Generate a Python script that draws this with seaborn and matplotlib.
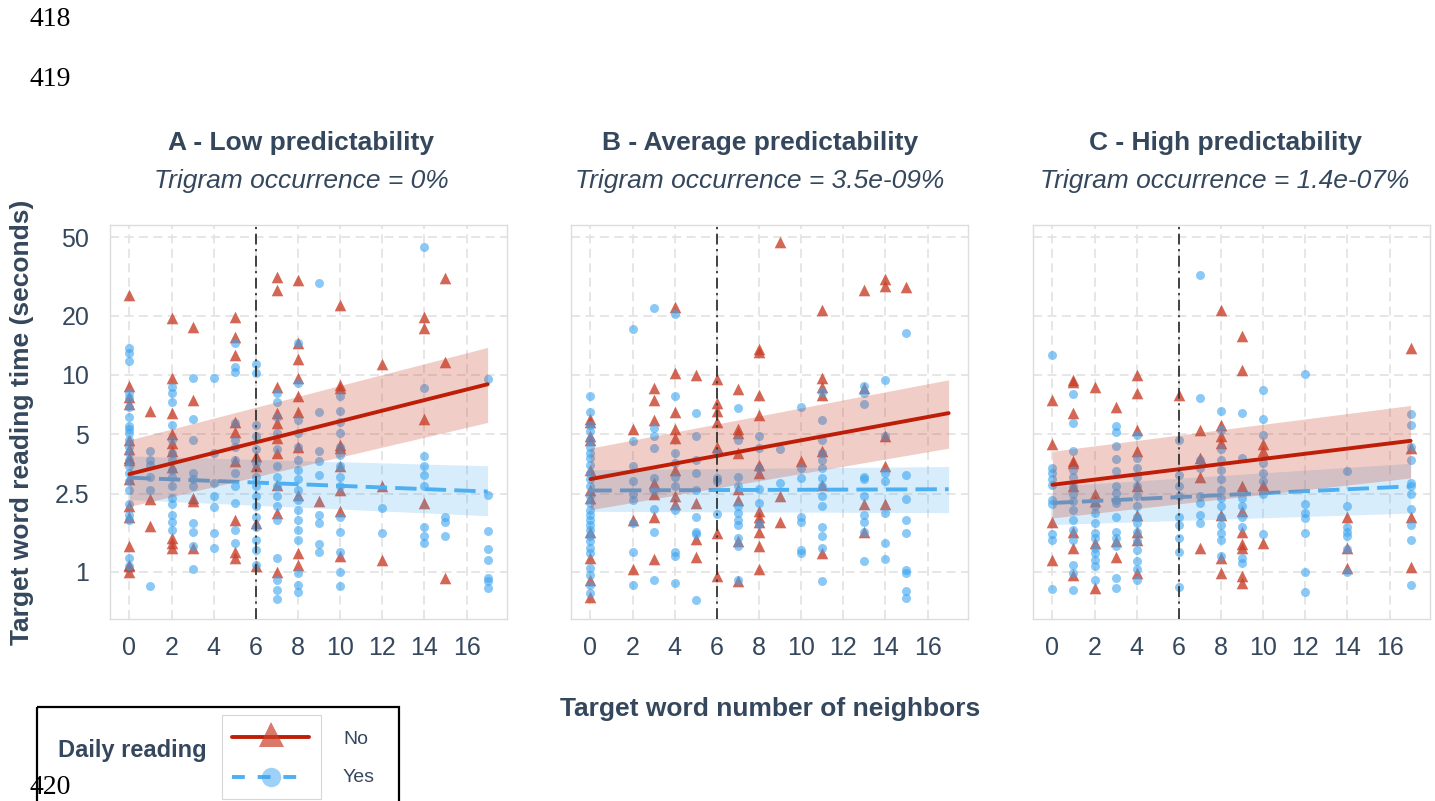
import matplotlib
matplotlib.use("Agg")
import matplotlib.pyplot as plt
import seaborn as sns
import pandas as pd
from matplotlib.patches import Rectangle
from matplotlib.ticker import NullLocator

# ---------------- data ----------------
PANEL_TITLES = ["A - Low predictability", "B - Average predictability", "C - High predictability"]
SUBTITLES = ["Trigram occurrence = 0%", "Trigram occurrence = 3.5e-09%", "Trigram occurrence = 1.4e-07%"]
X_TICKS = [0, 2, 4, 6, 8, 10, 12, 14, 16]
Y_TICKS = [1, 2.5, 5, 10, 20, 50]
Y_TICK_LABELS = ["1", "2.5", "5", "10", "20", "50"]
THRESHOLD = 6
GROUPS = ["No", "Yes"]

A_NO = {
    0: [25.4, 8.8, 7.7, 7.1, 4.7, 4.2, 3.8, 3.7, 2.95, 2.15, 1.9, 1.36, 1.09, 1.07, 1.0],
    1: [6.6, 2.35, 1.72],
    2: [19.4, 9.6, 6.4, 5.0, 4.5, 4.1, 3.4, 1.49, 1.4, 1.32],
    3: [17.5, 7.5, 2.37, 2.28, 1.32],
    5: [19.7, 15.5, 12.6, 5.8, 5.15, 3.64, 1.83, 1.27, 1.18],
    6: [3.86, 3.43, 1.77, 1.07],
    7: [31.5, 26.9, 8.7, 6.4, 5.7, 4.77, 4.0, 2.77, 2.0, 1.0],
    8: [30.3, 14.5, 12.0, 9.7, 7.8, 6.45, 4.33, 2.47, 1.25, 1.09],
    9: [2.3],
    10: [22.6, 8.9, 8.55, 4.4, 4.25, 3.43, 2.6, 2.03, 1.2],
    12: [11.4, 2.72, 1.15],
    14: [19.7, 17.4, 6.0, 2.24],
    15: [31.0, 11.7, 0.93],
}
A_YES = {
    0: [13.7, 12.9, 11.8, 8.1, 7.6, 6.9, 6.15, 5.5, 5.3, 5.1, 4.7, 4.3, 4.0, 3.7, 3.43, 3.17, 2.88, 2.6, 2.2, 1.95, 1.84, 1.18, 1.07],
    1: [4.1, 3.7, 3.5, 3.05, 2.6, 0.85],
    2: [8.7, 8.1, 7.3, 5.6, 4.7, 4.0, 3.7, 3.3, 3.05, 2.72, 2.37, 2.2, 1.95, 1.8, 1.64],
    3: [9.7, 6.0, 4.7, 3.17, 2.95, 2.72, 1.77, 1.6, 1.35, 1.03],
    4: [9.7, 4.0, 2.83, 2.42, 2.13, 1.58, 1.32],
    5: [14.6, 11.0, 10.4, 5.7, 4.7, 4.3, 3.7, 3.17, 2.72, 2.24, 1.64, 1.4],
    6: [11.4, 10.2, 5.6, 4.9, 4.2, 3.56, 3.05, 2.72, 2.42, 2.15, 1.91, 1.7, 1.46, 1.3, 1.09],
    7: [8.1, 7.3, 6.15, 5.1, 4.2, 3.43, 3.05, 2.72, 2.42, 2.15, 1.84, 1.18, 0.91, 0.81, 0.73],
    8: [14.5, 9.1, 5.9, 5.1, 4.3, 3.7, 3.3, 2.95, 2.6, 2.33, 2.07, 1.84, 1.64, 1.46, 0.99, 0.86, 0.79],
    9: [29.2, 6.5, 4.1, 3.64, 3.1, 1.95, 1.77, 1.38, 1.27],
    10: [7.8, 6.6, 5.8, 5.1, 4.3, 3.94, 3.43, 3.05, 2.72, 1.91, 1.6, 1.27, 1.0, 0.85],
    12: [2.11, 1.58],
    14: [44.6, 8.55, 3.86, 3.43, 3.1, 2.72, 1.7, 1.52, 1.4],
    15: [1.91, 1.8, 1.53],
    17: [9.5, 2.47, 1.62, 1.31, 1.15, 0.93, 0.9, 0.83],
}
B_NO = {
    0: [6.0, 5.8, 4.9, 4.7, 3.3, 2.6, 2.37, 1.6, 1.18, 0.91, 0.75],
    2: [5.3, 1.84, 1.04],
    3: [8.55, 7.5, 5.9, 2.83, 2.5, 1.89, 1.16],
    4: [22.2, 10.2, 6.5, 5.3, 4.77, 3.3, 2.42, 2.2],
    5: [10.0, 2.24, 1.47, 1.19],
    6: [9.5, 7.2, 6.6, 5.8, 4.3, 1.58, 0.95],
    7: [8.45, 5.3, 5.1, 4.0, 2.65, 2.33, 1.43, 0.9],
    8: [13.6, 13.1, 7.9, 6.25, 3.5, 3.17, 2.03, 1.91, 1.8, 1.6, 1.36, 1.04],
    9: [47.5, 2.42, 1.8],
    10: [3.64],
    11: [21.3, 9.6, 8.7, 7.9, 4.1, 2.77, 1.25],
    13: [26.9, 8.55, 2.22, 1.6],
    14: [30.8, 28.2, 4.9, 3.43, 2.2],
    15: [28.0],
}
B_YES = {
    0: [7.8, 6.5, 5.6, 5.2, 4.7, 4.33, 4.0, 3.78, 3.5, 3.17, 2.95, 2.72, 2.42, 2.24, 2.07, 1.95, 1.84, 1.73, 1.64, 1.52, 1.43, 1.32, 1.25, 1.05, 0.97, 0.86, 0.78],
    2: [17.2, 4.6, 3.43, 2.88, 2.5, 2.33, 1.77, 1.27, 0.86],
    3: [21.8, 5.4, 4.9, 4.25, 3.0, 2.6, 2.08, 1.6, 0.91],
    4: [20.5, 7.8, 4.0, 3.56, 3.05, 2.72, 2.07, 1.27, 1.2, 0.88],
    5: [6.4, 4.9, 3.7, 3.17, 2.6, 1.91, 1.6, 1.55, 0.72],
    6: [4.0, 3.0, 2.88, 1.98],
    7: [6.8, 4.7, 3.05, 2.72, 2.15, 1.99, 1.84, 1.73, 1.49, 1.35, 0.91],
    8: [4.9, 4.25, 3.37, 2.65, 2.24, 1.76],
    9: [4.2, 2.83],
    10: [6.9, 3.37, 3.0, 1.91, 1.8, 1.3, 1.25],
    11: [8.2, 5.9, 4.7, 4.0, 3.7, 3.37, 3.0, 2.72, 2.42, 2.15, 1.7, 1.52, 1.32, 0.9],
    13: [8.8, 8.1, 7.1, 3.05, 2.97, 2.42, 1.95, 1.8, 1.6, 1.13],
    14: [9.4, 4.9, 3.17, 2.88, 1.99, 1.41, 1.16],
    15: [16.3, 3.1, 2.35, 1.84, 1.57, 1.02, 0.99, 0.8, 0.74],
}
C_NO = {
    0: [7.5, 4.47, 1.8, 1.15],
    1: [9.4, 9.25, 6.4, 3.64, 3.56, 2.72, 1.6, 1.32, 0.97],
    2: [8.65, 2.5, 2.28, 1.4, 0.83],
    3: [6.9, 1.43, 1.19],
    4: [10.0, 8.1, 5.25, 4.1, 2.72, 1.95, 1.6, 1.46, 0.99],
    6: [7.9],
    7: [5.25, 3.78, 3.05, 1.32],
    8: [21.3, 5.6, 4.9, 4.5, 1.95, 1.18, 0.99],
    9: [15.8, 10.6, 2.72, 2.03, 1.6, 1.38, 1.32, 0.95, 0.88],
    10: [4.47, 4.1, 2.77, 1.4],
    14: [1.91, 1.32, 1.05],
    17: [13.7, 4.25, 1.91, 1.06],
}
C_YES = {
    0: [12.6, 3.37, 3.17, 2.95, 2.77, 2.33, 2.2, 1.55, 1.46, 0.82],
    1: [8.0, 5.7, 4.1, 3.3, 3.05, 2.72, 2.5, 2.28, 2.07, 1.84, 1.64, 1.46, 1.09, 0.99, 0.81],
    2: [2.15, 1.99, 1.77, 1.58, 1.49, 1.32, 1.25, 1.15, 1.07, 0.91],
    3: [5.5, 5.15, 4.37, 3.75, 3.27, 2.73, 2.53, 2.33, 2.24, 1.89, 1.6, 1.49, 1.35, 0.93, 0.83],
    4: [4.95, 3.78, 3.37, 3.05, 2.72, 2.42, 2.15, 1.91, 1.77, 1.6, 1.43, 1.3, 1.13, 1.03, 0.91],
    6: [4.7, 3.1, 2.72, 2.42, 1.91, 1.73, 1.49, 1.27, 0.84],
    7: [32.0, 7.6, 3.7, 3.37, 2.42, 2.24, 1.95, 1.78],
    8: [6.6, 5.25, 4.2, 3.7, 3.3, 2.95, 2.6, 2.37, 2.15, 1.91, 1.73, 1.58, 1.46, 1.2],
    9: [6.4, 3.78, 2.37, 2.15, 1.91, 1.7, 1.18, 1.11],
    10: [8.4, 6.0, 4.95, 3.56, 3.17, 2.88, 2.5, 1.55],
    12: [10.1, 2.2, 1.99, 1.88, 1.57, 1.0, 0.79],
    14: [3.24, 2.17, 1.7, 1.6, 1.52, 1.31, 1.0],
    17: [6.3, 5.6, 4.33, 3.7, 2.83, 2.72, 2.5, 2.08, 1.73, 1.45, 0.86],
}

# model fits: x endpoints, fitted value, CI low, CI high
FIT_X = [0, 17]
A_NO_FIT, A_NO_LO, A_NO_HI = [3.14, 8.97], [2.15, 5.74], [4.68, 13.8]
A_YES_FIT, A_YES_LO, A_YES_HI = [3.01, 2.56], [2.33, 1.93], [3.88, 3.46]
B_NO_FIT, B_NO_LO, B_NO_HI = [2.96, 6.4], [2.07, 4.25], [4.25, 9.45]
B_YES_FIT, B_YES_LO, B_YES_HI = [2.59, 2.63], [2.03, 2.0], [3.3, 3.43]
C_NO_FIT, C_NO_LO, C_NO_HI = [2.77, 4.63], [1.88, 3.0], [4.1, 7.0]
C_YES_FIT, C_YES_LO, C_YES_HI = [2.24, 2.72], [1.74, 1.99], [2.72, 3.56]

POINTS = [(A_NO, A_YES), (B_NO, B_YES), (C_NO, C_YES)]
FITS = [
    ((A_NO_FIT, A_NO_LO, A_NO_HI), (A_YES_FIT, A_YES_LO, A_YES_HI)),
    ((B_NO_FIT, B_NO_LO, B_NO_HI), (B_YES_FIT, B_YES_LO, B_YES_HI)),
    ((C_NO_FIT, C_NO_LO, C_NO_HI), (C_YES_FIT, C_YES_LO, C_YES_HI)),
]


def to_frame(d):
    rows = [(x, y) for x, ys in d.items() for y in ys]
    return pd.DataFrame(rows, columns=["x", "y"])


# ---------------- style ----------------
sns.set_theme(style="white")
plt.rcParams["font.family"] = ["Liberation Sans", "DejaVu Sans"]

TEXT = "#34475C"
RED_PT = "#C8402A"
RED_LINE = "#BE1E08"
BLUE_PT = "#3DA5F0"
BLUE_LINE = "#4DB0F2"
GRID = "#E4E4E4"

W, H = 1435, 801
fig = plt.figure(figsize=(W / 100, H / 100), dpi=100)
fig.patch.set_facecolor("white")

panel_lefts = [110, 571, 1033]
panel_w = 397
top_px, bot_px = 225, 619
title_cx = [301, 760, 1225]

for i, left in enumerate(panel_lefts):
    ax = fig.add_axes([left / W, 1 - bot_px / H, panel_w / W, (bot_px - top_px) / H])
    ax.set_yscale("log")
    ax.set_xlim(-0.92, 17.92)
    ax.set_ylim(0.577, 57.7)
    ax.set_axisbelow(True)
    ax.grid(True, which="major", color=GRID, linestyle=(0, (5, 3)), linewidth=1.3)

    no_pts, yes_pts = POINTS[i]
    sns.scatterplot(data=to_frame(no_pts), x="x", y="y", marker="^", s=70,
                    color=RED_PT, alpha=0.8, linewidth=0, ax=ax, zorder=2)
    sns.scatterplot(data=to_frame(yes_pts), x="x", y="y", marker="o", s=42,
                    color=BLUE_PT, alpha=0.6, linewidth=0, ax=ax, zorder=2)

    (nf, nlo, nhi), (yf, ylo, yhi) = FITS[i]
    ax.fill_between(FIT_X, ylo, yhi, color=BLUE_PT, alpha=0.2, linewidth=0, zorder=3)
    sns.lineplot(x=FIT_X, y=yf, color=BLUE_LINE, linewidth=2.8,
                 linestyle=(0, (5.5, 2.1)), ax=ax, zorder=3)
    ax.fill_between(FIT_X, nlo, nhi, color=RED_PT, alpha=0.26, linewidth=0, zorder=4)
    sns.lineplot(x=FIT_X, y=nf, color=RED_LINE, linewidth=2.8, ax=ax, zorder=4)

    ax.axvline(THRESHOLD, color="#333333", linewidth=1.3,
               linestyle=(0, (6, 2.5, 1.2, 2.5)), zorder=5)

    ax.set_xticks(X_TICKS)
    ax.set_xticklabels([str(t) for t in X_TICKS])
    ax.set_yticks(Y_TICKS)
    ax.yaxis.set_minor_locator(NullLocator())
    if i == 0:
        ax.set_yticklabels(Y_TICK_LABELS)
    else:
        ax.set_yticklabels([])
    ax.tick_params(axis="both", length=0, labelsize=18, labelcolor=TEXT)
    ax.tick_params(axis="x", pad=12)
    ax.tick_params(axis="y", pad=15)
    ax.set_xlabel("")
    ax.set_ylabel("")
    for sp in ax.spines.values():
        sp.set_color("#DDDDDD")
        sp.set_linewidth(1.0)

    fig.text(title_cx[i] / W, 1 - 150 / H, PANEL_TITLES[i], ha="center", va="baseline",
             fontsize=19, fontweight="bold", color=TEXT)
    fig.text(title_cx[i] / W, 1 - 188 / H, SUBTITLES[i], ha="center", va="baseline",
             fontsize=19, fontstyle="italic", color=TEXT)

# axis labels
fig.text(770 / W, 1 - 716 / H, "Target word number of neighbors", ha="center", va="baseline",
         fontsize=19, fontweight="bold", color=TEXT)
fig.text(22 / W, 1 - 422 / H, "Target word reading time (seconds)", ha="center", va="center",
         rotation=90, fontsize=19, fontweight="bold", color=TEXT)

# legend (pixel-coordinate overlay)
lax = fig.add_axes([0, 0, 1, 1], zorder=10)
lax.set_xlim(0, W)
lax.set_ylim(H, 0)
lax.axis("off")
lax.patch.set_alpha(0)
lax.add_patch(Rectangle((37, 707), 362, 110, fill=False, edgecolor="black", linewidth=1.6))
lax.add_patch(Rectangle((222, 715), 99, 84, fill=False, edgecolor="#D6D6D6", linewidth=0.8))
lax.text(58, 750, "Daily reading", ha="left", va="center", fontsize=17,
         fontweight="bold", color=TEXT)
lax.plot([232, 309], [737, 737], color=RED_LINE, linewidth=2.8)
lax.plot([271], [734], marker="^", markersize=18, color=RED_PT, alpha=0.7,
         linestyle="none", markeredgewidth=0)
lax.plot([232, 309], [777, 777], color=BLUE_LINE, linewidth=2.8, linestyle=(0, (3.3, 3.3)))
lax.plot([271], [777], marker="o", markersize=14, color=BLUE_PT, alpha=0.5,
         linestyle="none", markeredgewidth=0)
lax.text(343, 739, GROUPS[0], ha="left", va="center", fontsize=14, color=TEXT)
lax.text(343, 777, GROUPS[1], ha="left", va="center", fontsize=14, color=TEXT)

# page line numbers
for txt, yy in [("418", 20), ("419", 80), ("420", 788)]:
    lax.text(29, yy, txt, ha="left", va="center", fontsize=20,
             fontfamily=["Liberation Serif", "DejaVu Serif"], color="black")

fig.savefig("out.png", dpi=100, facecolor="white")
